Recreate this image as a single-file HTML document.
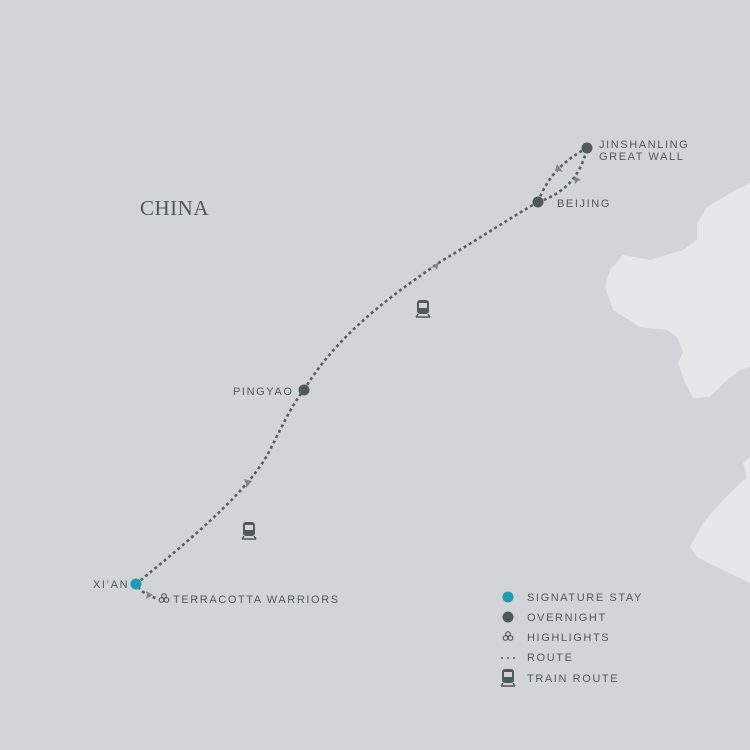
<!DOCTYPE html>
<html><head><meta charset="utf-8"><style>
html,body{margin:0;padding:0;background:#d3d4d8}
svg{display:block}
text{font-family:"Liberation Sans",sans-serif;fill:#4f5a5b;letter-spacing:1.6px;font-size:11px}
</style></head><body>
<svg width="750" height="750" viewBox="0 0 750 750" xmlns="http://www.w3.org/2000/svg">
<rect width="750" height="750" fill="#d3d4d8"/>
<path fill="#e6e7e9" d="M750,183 L736,190 L707,207 L697,223 L697,240 L683,250 L650,260 L640,258 L623,255 L610,270 L605,287 L613,310 L640,327 L667,330 L677,337 L683,352 L678,363 L685,383 L693,398 L710,397 L727,380 L740,370 L750,367 Z"/>
<path fill="#e6e7e9" d="M750,457 L743,463 L747,477 L723,500 L703,523 L690,547 L697,557 L723,570 L750,583 Z"/>
<g fill="none" stroke="#566061" stroke-width="2.6" stroke-dasharray="3 3">
<path d="M136,584 C190,540 250,490 270,450 C285,420 295,400 304,390"/>
<path d="M304,390 C340,330 400,290 440,262 C480,238 515,215 538,202"/>
<path d="M538,202 C548,175 565,160 587,148"/>
<path d="M538,202 C560,195 580,180 587,148"/>
<path d="M138,587 C142,592 148,596 156,598"/>
</g>
<g fill="#7f8688">
<path d="M244,479 l8,2 l-6,7 l0,-4 z"/>
<path d="M430,268 l9,-6 l-2,8 l-2,-3 z"/>
<path d="M555,171 l2,-7 l6,8 l-4,-1 z"/>
<path d="M575,184 l-1,-8 l7,4 l-3,1 z"/>
<path d="M146,591 l7,4 l-7,4 l1,-4 z"/>
</g>
<circle cx="587" cy="148" r="5.5" fill="#4f5a5b"/>
<circle cx="538" cy="202" r="5.5" fill="#4f5a5b"/>
<circle cx="304" cy="390" r="5.5" fill="#4f5a5b"/>
<circle cx="136" cy="584" r="5.5" fill="#1e9db0"/>
<g fill="none" stroke="#4f5a5b" stroke-width="1.2">
<circle cx="164" cy="596" r="2.3"/><circle cx="161.5" cy="600" r="2.3"/><circle cx="166.5" cy="600" r="2.3"/>
<circle cx="508" cy="634" r="2.3"/><circle cx="505.5" cy="638" r="2.3"/><circle cx="510.5" cy="638" r="2.3"/>
</g>
<defs>
<g id="train">
<rect x="-6" y="-9" width="12" height="14" rx="3" fill="#4f5a5b"/>
<rect x="-4" y="-6" width="8" height="5" fill="#d3d4d8"/>
<path d="M-7,8 L7,8 M-5,5 L-7,8 M5,5 L7,8" stroke="#4f5a5b" stroke-width="1.4"/>
</g>
</defs>
<use href="#train" x="423" y="309"/>
<use href="#train" x="249" y="531"/>
<use href="#train" x="508" y="678"/>
<circle cx="508" cy="597" r="5.5" fill="#1e9db0"/>
<circle cx="508" cy="617" r="5.5" fill="#4f5a5b"/>
<g fill="#4f5a5b"><circle cx="502" cy="658" r="1"/><circle cx="508" cy="658" r="1"/><circle cx="514" cy="658" r="1"/></g>
<text x="140" y="215" style="font-family:'Liberation Serif',serif;font-size:21px;letter-spacing:0.5px">CHINA</text>
<text x="599" y="148">JINSHANLING</text>
<text x="599" y="160">GREAT WALL</text>
<text x="557" y="207">BEIJING</text>
<text x="233" y="395">PINGYAO</text>
<text x="93" y="588">XI’AN</text>
<text x="173" y="603">TERRACOTTA WARRIORS</text>
<text x="527" y="601">SIGNATURE STAY</text>
<text x="527" y="621">OVERNIGHT</text>
<text x="527" y="641">HIGHLIGHTS</text>
<text x="527" y="661">ROUTE</text>
<text x="527" y="682">TRAIN ROUTE</text>
</svg>
</body></html>
